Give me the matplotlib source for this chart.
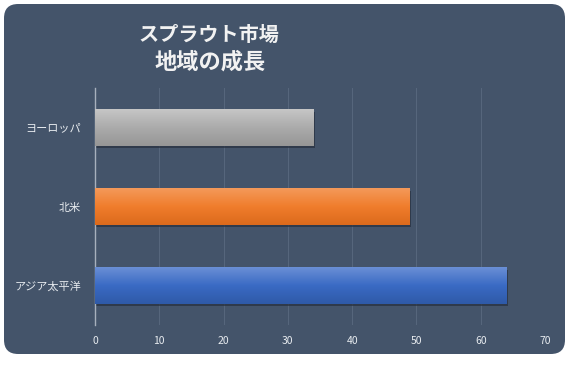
import matplotlib
matplotlib.use("Agg")
import matplotlib.pyplot as plt
import numpy as np
from matplotlib.patches import FancyBboxPatch
from matplotlib.colors import LinearSegmentedColormap

plt.rcParams['font.family'] = ['Noto Sans CJK JP', 'DejaVu Sans']

categories = ["アジア太平洋", "北米", "ヨーロッパ"]
values = [64, 49, 34]
title_lines = ["スプラウト市場", "地域の成長"]
xticks = [0, 10, 20, 30, 40, 50, 60, 70]

bar_colors = [("#6a8fd6", "#3a6ac4", "#2f5aa8"),
              ("#f4995a", "#f07d2c", "#dc6a1c"),
              ("#c6c6c6", "#ababab", "#969696")]

BG = "#44546a"

fig = plt.figure(figsize=(5.67, 3.67), dpi=100)
fig.patch.set_facecolor("white")
bg = FancyBboxPatch((4/567, 1 - 354/367), 561/567, 350/367,
                    boxstyle="round,pad=0,rounding_size=0.025",
                    transform=fig.transFigure, facecolor=BG, edgecolor="none",
                    mutation_aspect=567/367, zorder=-5)
fig.patches.append(bg)

ax = fig.add_axes([95/567, 1 - 325/367, 450/567, 237/367])
ax.set_facecolor("none")
ax.set_zorder(1)

y = np.arange(len(categories))
h = 0.46
# shadows
ax.barh(y - 0.035, values, height=h, left=0.2, color="#27303e", alpha=0.7, zorder=2)
bars = ax.barh(y, values, height=h, color=[c[1] for c in bar_colors], zorder=3)
for b, cols in zip(bars, bar_colors):
    cmap = LinearSegmentedColormap.from_list("g", [cols[0], cols[1], cols[2]])
    x0, y0 = b.get_x(), b.get_y()
    w, hh = b.get_width(), b.get_height()
    grad = np.linspace(0, 1, 64).reshape(-1, 1)
    im = ax.imshow(grad, extent=[x0, x0 + w, y0, y0 + hh], aspect="auto",
                   cmap=cmap, zorder=4, origin="upper")
    im.set_clip_path(b)
ax.set_xlim(0, 70)
ax.set_ylim(-0.5, 2.5)

ax.set_xticks(xticks)
ax.set_xticklabels([str(t) for t in xticks])
ax.set_yticks(y)
ax.set_yticklabels(categories)
ax.tick_params(axis="both", length=0, colors="#e8ecf0", labelsize=7.5)
ax.tick_params(axis="x", pad=8)
ax.tick_params(axis="y", pad=10, labelsize=8)
ax.grid(axis="x", color="#56667c", linewidth=0.8, zorder=1)
ax.set_axisbelow(True)
for s in ["top", "right", "bottom"]:
    ax.spines[s].set_visible(False)
ax.spines["left"].set_color("#a7b0bd")
ax.spines["left"].set_linewidth(1.0)

fig.text(209/567, 1 - 34/367, title_lines[0], color="#f2f2f2", fontsize=14.5,
         fontweight="bold", ha="center", va="center")
fig.text(210/567, 1 - 62/367, title_lines[1], color="#f2f2f2", fontsize=16,
         fontweight="bold", ha="center", va="center")

fig.savefig("out.png", dpi=100, facecolor="white")
